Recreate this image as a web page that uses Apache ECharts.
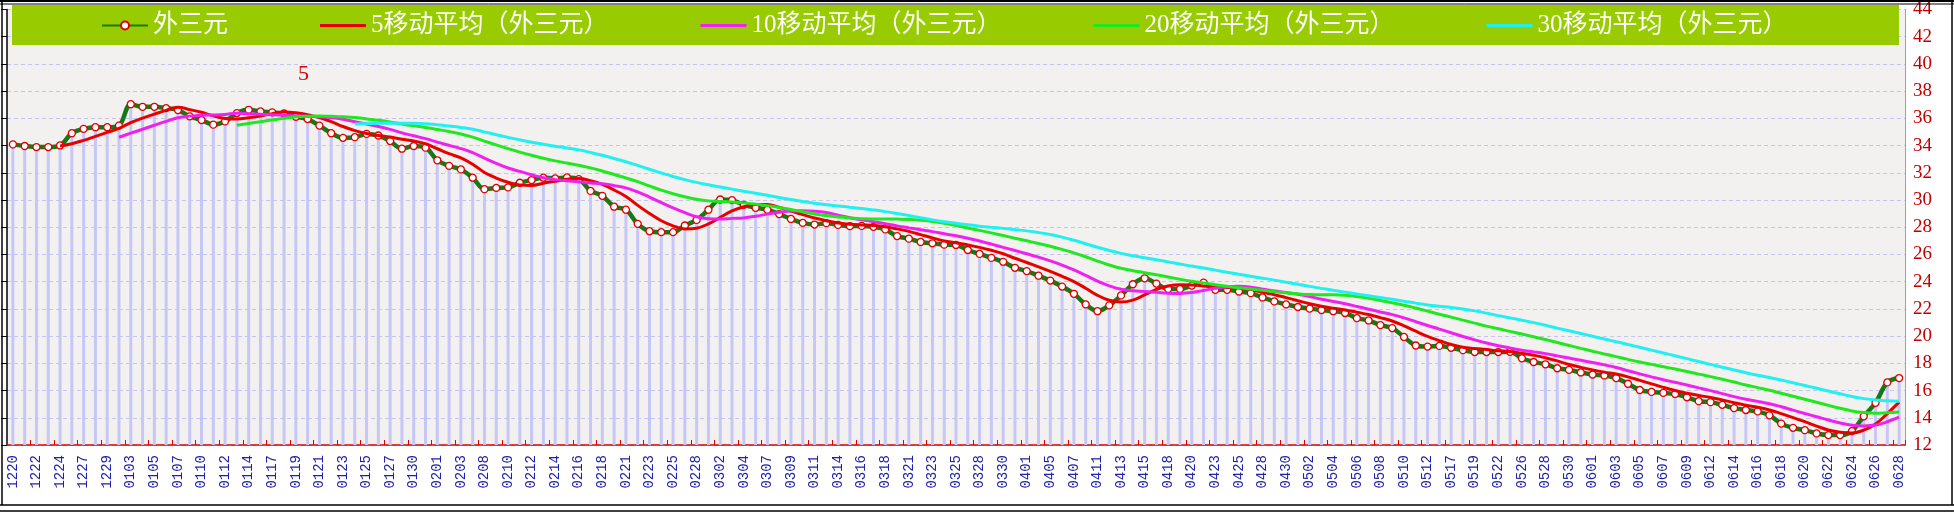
<!DOCTYPE html>
<html>
<head>
<meta charset="utf-8">
<script src="https://cdn.jsdelivr.net/npm/echarts@6/dist/echarts.min.js"></script>
<style>
html,body{margin:0;padding:0;background:#fff;}
#c{width:1954px;height:513px;}
</style>
</head>
<body>
<div id="c"></div>
<script>
// ---- data ----
const dates = [
'1220','1221','1222','1223','1224','1226','1227','1228','1229','1231',
'0103','0104','0105','0106','0107','0109','0110','0111','0112','0113',
'0114','0116','0117','0118','0119','0120','0121','0122','0123','0124',
'0125','0126','0127','0128','0130','0131','0201','0202','0203','0207',
'0208','0209','0210','0211','0212','0213','0214','0215','0216','0217',
'0218','0220','0221','0222','0223','0224','0225','0227','0228','0301',
'0302','0303','0304','0306','0307','0308','0309','0310','0311','0313',
'0314','0315','0316','0317','0318','0320','0321','0322','0323','0324',
'0325','0327','0328','0329','0330','0331','0401','0403','0405','0406',
'0407','0410','0411','0412','0413','0414','0415','0417','0418','0419',
'0420','0422','0423','0424','0425','0427','0428','0429','0430','0501',
'0502','0503','0504','0505','0506','0507','0508','0509','0510','0511',
'0512','0516','0517','0518','0519','0521','0522','0525','0526','0527',
'0528','0529','0530','0531','0601','0602','0603','0604','0605','0606',
'0607','0608','0609','0611','0612','0613','0614','0615','0616','0617',
'0618','0619','0620','0621','0622','0623','0624','0625','0626','0627',
'0628'
];
const pricesA = [34.09,33.97,33.89,33.89,34.01,34.91,35.23,35.35,35.35,35.47,
37.04,36.85,36.85,36.75,36.61,36.15,35.88,35.54,35.78,36.39,
36.63,36.51,36.44,36.36,36.12,35.95,35.47,34.91,34.57,34.62,
34.86,34.74,34.33,33.77,33.97,33.85,32.92,32.51,32.25,31.64,30.80];
const pricesB = [30.89,30.93,31.27,31.47,31.64,31.59,31.66,31.54,30.67,30.31,
29.51,29.29,28.25,27.71,27.64,27.64,28.13,28.54,29.29,30.04,
29.99,29.65,29.43,29.29,28.97,28.61,28.32,28.20,28.30,28.17,
28.08,28.10,28.03,27.84,27.35,27.16,26.92,26.82,26.72,26.70];
const pricesC = [26.33,26.04,25.75,25.46,25.02,24.78,24.44,24.08,23.64,23.11,
22.33,21.83,22.26,22.99,23.81,24.25,23.86,23.47,23.47,23.71,
23.93,23.40,23.40,23.28,23.16,22.84,22.55,22.33,22.14,22.02,
21.92,21.83,21.70,21.32,21.15,20.81,20.59,19.94,19.31,19.23,19.28];
const pricesD = [19.14,18.97,18.83,18.83,18.83,18.85,18.37,18.10,17.93,17.64,
17.52,17.33,17.18,17.11,16.92,16.50,16.04,15.90,15.83,15.75,
15.51,15.22,15.15,14.95,14.71,14.57,14.47,14.18,13.57,13.26,
13.09,12.85,12.73,12.73,13.02,14.11,15.10,16.60,16.92];
const mainName = '外三元';
const maPeriods = [5, 10, 20, 30];
const maNames = ['5移动平均（外三元）','10移动平均（外三元）','20移动平均（外三元）','30移动平均（外三元）'];
const yMin = 12, yMax = 44, yStep = 2;
const noteText = '5';

// ---- build ----
const prices = pricesA.concat(pricesB, pricesC, pricesD);
function movingAverage(arr, p) {
  return arr.map((v, i) => {
    if (i < p - 1) return '-';
    let s = 0;
    for (let k = i - p + 1; k <= i; k++) s += arr[k];
    return +(s / p).toFixed(3);
  });
}
const maColors = ['#e80000', '#f020f0', '#20e820', '#20f0f0'];
const W = 1954, H = 513;
const gridL = 7, gridR = 49, gridT = 4, gridB = 68;

const series = [
  {
    type: 'bar', name: 'bars', data: prices, barWidth: 3, silent: true,
    itemStyle: { color: '#c6c6f8' }, z: 1, legendHoverLink: false
  },
  {
    type: 'line', name: mainName, data: prices, smooth: 0.35,
    symbol: 'circle', symbolSize: 7, showAllSymbol: true,
    lineStyle: { color: '#157a15', width: 4.5 },
    itemStyle: { color: '#ffffff', borderColor: '#e00000', borderWidth: 1.3 },
    z: 3
  }
];
maPeriods.forEach((p, k) => {
  series.push({
    type: 'line', name: maNames[k], data: movingAverage(prices, p), smooth: 0.4,
    symbol: 'none', lineStyle: { color: maColors[k], width: 3 },
    itemStyle: { color: maColors[k] }, z: 4
  });
});

const legendData = [{ name: mainName }].concat(maNames.map(n => ({ name: n, icon: 'path://M0,0H46V3.2H0Z' })));

const chart = echarts.init(document.getElementById('c'), null, { renderer: 'canvas', width: W, height: H });
chart.setOption({
  animation: false,
  backgroundColor: '#ffffff',
  grid: {
    left: gridL, right: gridR, top: gridT, bottom: gridB,
    show: true, backgroundColor: '#f3f1ef', borderWidth: 0
  },
  legend: {
    data: legendData,
    left: 101, top: 13, padding: 0, itemGap: 92,
    itemWidth: 46, itemHeight: 10,
    textStyle: { color: '#ffffff', fontSize: 25, fontFamily: "'Liberation Serif','Noto Sans CJK SC'" },
    z: 10, selectedMode: false
  },
  xAxis: {
    type: 'category', data: dates, boundaryGap: true,
    axisLine: { lineStyle: { color: '#e00000', width: 1.5 } },
    axisTick: { show: true, inside: true, length: 5, interval: 1, lineStyle: { color: '#e00000' } },
    axisLabel: { interval: 1, rotate: 90, margin: 10, color: '#2020a8', fontSize: 14, fontFamily: "'Liberation Mono'" },
    splitLine: { show: false }
  },
  yAxis: [
    {
      type: 'value', position: 'right', min: yMin, max: yMax, interval: yStep,
      axisLine: { show: true, lineStyle: { color: '#a0a0a0' } },
      axisTick: { show: false },
      axisLabel: { color: '#c00000', fontSize: 19, fontFamily: "'Liberation Serif'", margin: 8 },
      splitLine: { show: true, lineStyle: { color: '#c4c4f0', type: [4, 3], width: 1 } }
    },
    {
      type: 'value', position: 'left', min: yMin, max: yMax, interval: yStep,
      axisLine: { show: true, lineStyle: { color: '#000000', width: 1.5 } },
      axisTick: { show: true, length: 6, lineStyle: { color: '#000000' } },
      axisLabel: { show: false },
      splitLine: { show: false }
    }
  ],
  graphic: [
    { type: 'rect', shape: { x: 12, y: 5, width: 1887, height: 40 }, style: { fill: '#99cc00' }, z: 5 },
    { type: 'text', x: 298, y: 63, style: { text: noteText, fill: '#d80000', font: "22px 'Liberation Serif'" }, z: 6 },
    { type: 'line', shape: { x1: 0, y1: 1, x2: W, y2: 1 }, style: { stroke: '#000', lineWidth: 2 }, z: 20 },
    { type: 'line', shape: { x1: 0, y1: 4, x2: W, y2: 4 }, style: { stroke: '#000', lineWidth: 1 }, z: 20 },
    { type: 'line', shape: { x1: 2, y1: 0, x2: 2, y2: 505 }, style: { stroke: '#000', lineWidth: 1.5 }, z: 20 },
    { type: 'line', shape: { x1: 1952, y1: 0, x2: 1952, y2: 505 }, style: { stroke: '#000', lineWidth: 1.5 }, z: 20 },
    { type: 'line', shape: { x1: 0, y1: 505, x2: W, y2: 505 }, style: { stroke: '#000', lineWidth: 1.5 }, z: 20 },
    { type: 'line', shape: { x1: 0, y1: 511, x2: W, y2: 511 }, style: { stroke: '#000', lineWidth: 1.5 }, z: 20 }
  ],
  series: series
});
</script>
</body>
</html>
